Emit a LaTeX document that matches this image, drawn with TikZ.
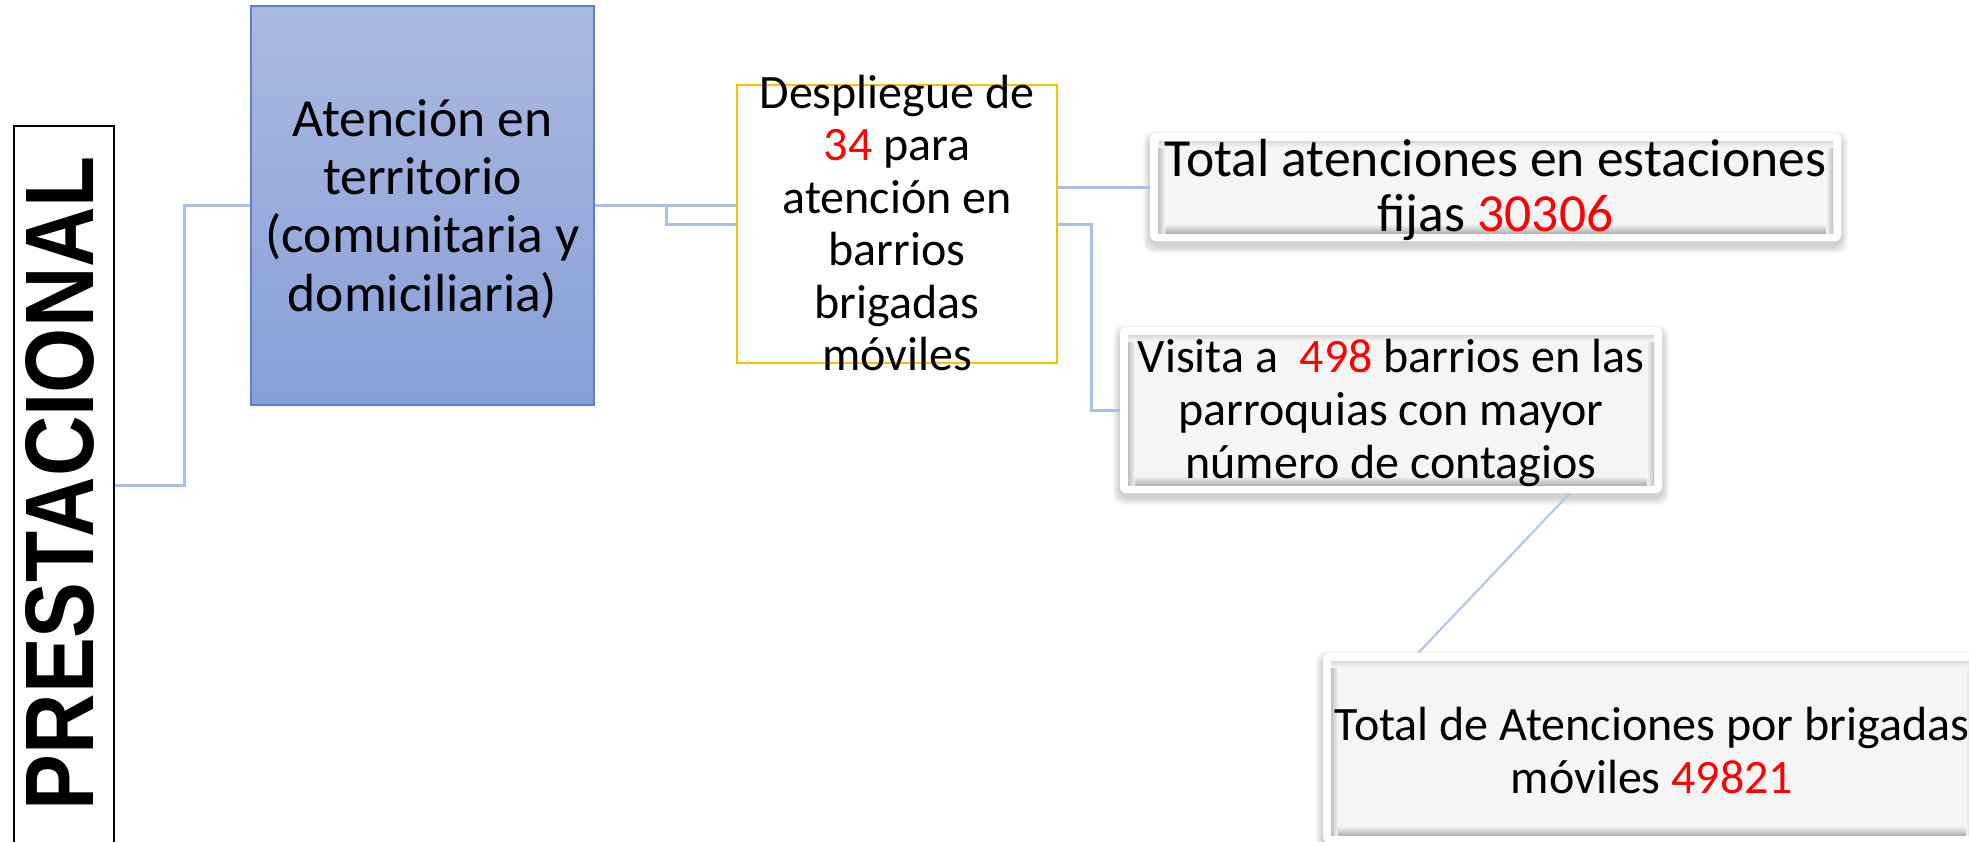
\documentclass[tikz,border=0pt]{standalone}
\usepackage{fontspec}
\setmainfont{Carlito}
\newfontfamily\presfont{Liberation Sans}
\usetikzlibrary{calc}
\definecolor{connblue}{HTML}{A9BFE4}
\definecolor{connlight}{HTML}{B4C8E8}
\definecolor{panel}{HTML}{F5F5F5}
\definecolor{bluetop}{HTML}{AAB9E1}
\definecolor{bluebot}{HTML}{889FD7}
\definecolor{blueedge}{HTML}{5B7FCF}
\definecolor{gold}{HTML}{FFC000}
\newcommand\rnum[1]{\textcolor{red}{#1}}
\newcommand\bevelpanel[4]{%
  \foreach \i in {1,...,7}{\fill[black,opacity=0.028,rounded corners=5pt] (#1-\i,#2-\i+5) rectangle (#3+\i,#4+\i+5);}
  \fill[white,rounded corners=3pt] (#1,#2) rectangle (#3,#4);
  \fill[panel] (#1+8,#2+8) rectangle (#3-8,#4-8);
  \shade[top color=panel,bottom color=gray!60] (#1+8,#4-17) rectangle (#3-8,#4-8);
  \shade[left color=gray!50,right color=panel] (#1+8,#2+8) rectangle (#1+15,#4-8);
  \shade[left color=panel,right color=gray!50] (#3-15,#2+8) rectangle (#3-8,#4-8);
  \shade[top color=gray!30,bottom color=panel] (#1+8,#2+8) rectangle (#3-8,#2+14);
}
\tikzset{
  conn/.style={draw=connblue,line width=1.5pt},
  connl/.style={draw=connlight,line width=1.1pt},
  txt/.style={font=\fontsize{24}{26.2}\selectfont,align=center,inner sep=0pt},
  holder/.style={inner sep=0pt,rectangle},
}
\begin{document}
\begin{tikzpicture}[x=0.5pt,y=-0.5pt]
\useasboundingbox (0,0) rectangle (1969,841);
\clip (0,0) rectangle (1969,841);

% PRESTACIONAL
\node[holder,draw=black,line width=1.1pt,minimum width=50pt,minimum height=359pt] (pres) at (64,485) {};
\node[rotate=90,inner sep=0pt] (prestxt) at (60,483) {\resizebox{327pt}{34pt}{\presfont\bfseries PRESTACIONAL}};

% blue box
\node[holder,draw=blueedge,line width=0.7pt,top color=bluetop,bottom color=bluebot,minimum width=171.5pt,minimum height=199.5pt] (blue) at (422.5,205.5) {};
\node[txt,font=\fontsize{26.8}{29.2}\selectfont] (bluetxt) at (422.5,209) {Atención en\\territorio\\(comunitaria y\\domiciliaria)};

% despliegue box
\node[holder,draw=gold,line width=1.2pt,fill=white,minimum width=160pt,minimum height=139pt] (desp) at (897,224) {};
\node[txt] (desptxt) at (897,223) {Despliegue de\\\rnum{34} para\\atención en\\barrios\\brigadas\\móviles};

% bevel panels
\bevelpanel{1150}{133}{1841}{241}
\node[holder,minimum width=345.5pt,minimum height=54pt] (tot) at (1495.5,187) {};
\node[txt,font=\fontsize{26.8}{27.5}\selectfont] (tottxt) at (1495.5,190) {Total atenciones en estaciones\\fijas \rnum{30306}};

\bevelpanel{1120}{327}{1662}{493}
\node[holder,minimum width=271pt,minimum height=83pt] (vis) at (1391,410) {};
\node[txt,font=\fontsize{24}{26.6}\selectfont] (vistxt) at (1391,413) {Visita a\ \ \rnum{498} barrios en las\\parroquias con mayor\\número de contagios};

\bevelpanel{1323}{653}{1981}{843}
\node[holder,minimum width=329pt,minimum height=95pt] (big) at (1652,748) {};
\node[txt,font=\fontsize{24}{26.5}\selectfont] (bigtxt) at (1652,750) {Total de Atenciones por brigadas\\móviles \rnum{49821}};

% connectors
\draw[conn] (pres.east) -- ++(69,0) |- (blue.west);
\draw[conn] (blue.east) -- (blue.east -| desp.west);
\draw[conn] (blue.east) -- ++(72,0) |- (desp.west);
\draw[conn] (desp.east |- tot.west) -- (tot.west);
\draw[conn] (desp.east) -- ++(33,0) |- (vis.west);
\draw[connl] ($(vis.south west)+(450,0)$) -- ($(big.north west)+(96,0)$);
\end{tikzpicture}
\end{document}
